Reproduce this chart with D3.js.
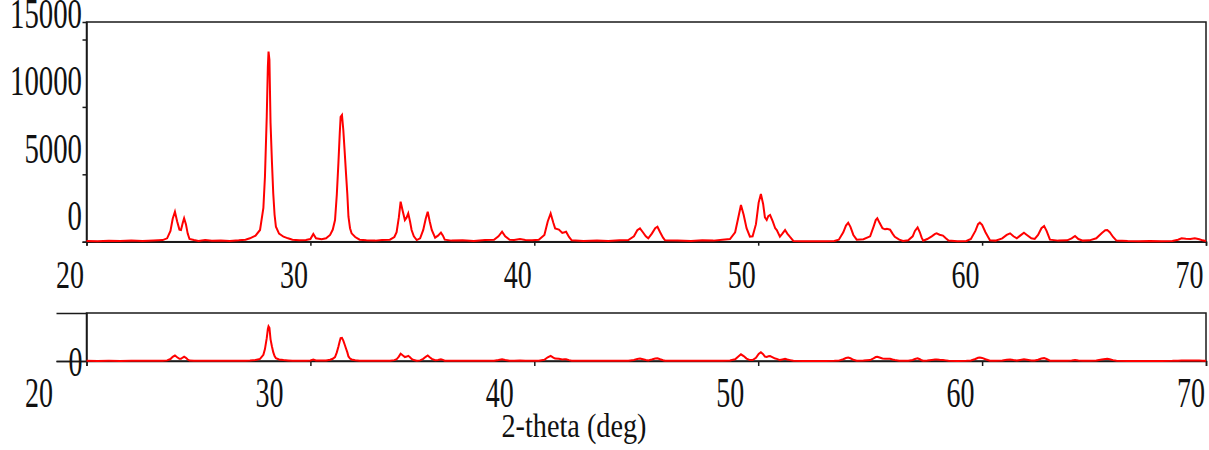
<!DOCTYPE html>
<html>
<head>
<meta charset="utf-8">
<script src="https://cdn.jsdelivr.net/npm/d3@7/dist/d3.min.js"></script>
<style>
  html, body { margin: 0; padding: 0; background: #fff; }
  svg { display: block; }
  text { font-family: "Liberation Serif", "Times New Roman", serif; fill: #111; }
</style>
</head>
<body>
<svg id="chart" width="1209" height="450"></svg>
<script>
// ---- data ----
const twoTheta = [
  20.0,20.5,21.0,21.5,22.0,22.5,23.0,23.4,23.6,23.75,23.85,23.95,24.05,24.15,24.22,24.3,24.36,24.44,24.52,24.6,
  24.8,25.0,25.3,25.6,26.0,26.4,26.8,27.1,27.3,27.55,27.75,27.9,27.97,28.05,28.1,28.13,28.17,28.22,28.28,28.34,
  28.4,28.46,28.6,28.8,29.0,29.2,29.5,29.8,30.0,30.13,30.25,30.5,30.7,30.88,31.0,31.1,31.18,31.25,31.31,31.35,
  31.41,31.47,31.53,31.59,31.65,31.7,31.77,31.84,32.0,32.2,32.5,32.9,33.2,33.55,33.75,33.85,33.95,34.03,34.12,34.22,
  34.3,34.37,34.45,34.52,34.62,34.75,34.9,35.04,35.15,35.24,35.33,35.42,35.57,35.7,35.83,35.92,36.0,36.3,36.8,37.3,
  37.8,38.2,38.4,38.56,38.7,38.9,39.1,39.36,39.6,39.9,40.2,40.45,40.6,40.73,40.85,40.93,41.1,41.25,41.35,41.42,
  41.55,41.67,42.2,42.8,43.3,43.8,44.2,44.45,44.6,44.72,44.85,44.98,45.09,45.25,45.4,45.5,45.62,45.75,45.84,46.4,
  47.0,47.5,48.0,48.4,48.74,48.97,49.1,49.23,49.35,49.48,49.63,49.75,49.9,50.02,50.12,50.22,50.3,50.38,50.45,50.53,
  50.65,50.76,50.83,50.97,51.08,51.2,51.3,51.42,51.57,52.0,52.5,53.0,53.4,53.6,53.8,53.92,54.02,54.12,54.25,54.4,
  54.7,55.0,55.15,55.25,55.32,55.42,55.55,55.66,55.75,55.89,56.0,56.1,56.3,56.47,56.7,56.9,57.0,57.12,57.22,57.3,
  57.37,57.55,57.75,57.9,57.97,58.1,58.25,58.38,58.5,58.9,59.3,59.5,59.7,59.82,59.9,60.0,60.15,60.35,60.6,60.9,
  61.1,61.25,61.4,61.55,61.7,61.87,62.0,62.2,62.35,62.5,62.65,62.77,62.88,63.03,63.4,63.8,64.0,64.15,64.3,64.5,
  64.8,65.1,65.35,65.5,65.59,65.7,65.85,66.0,66.5,67.0,67.5,68.0,68.5,68.75,68.91,69.1,69.3,69.5,69.7,69.85,
  70.0
];
const intensity = [
  60,40,70,50,80,60,90,120,250,800,1700,2225,1500,900,870,1400,1735,1300,600,200,
  120,60,130,70,90,60,100,150,250,450,870,2500,4820,9270,13000,14100,13500,8800,6000,3600,
  2000,1110,600,370,250,150,100,120,200,570,250,180,250,500,900,1610,3500,5810,8000,9270,
  9400,8290,6700,5070,3500,1855,1000,620,350,150,100,80,120,150,350,700,1800,2970,2300,1610,
  1800,2100,1500,870,400,120,250,870,1700,2225,1500,870,300,450,670,450,150,80,100,60,
  120,150,400,740,400,150,120,200,120,100,150,500,1500,2100,1400,990,900,650,700,740,
  350,100,60,90,60,100,120,400,850,990,700,400,250,600,1000,1110,700,300,100,80,
  60,100,80,150,200,700,1700,2720,2000,1000,370,400,1300,2900,3540,2800,1800,1610,1900,1980,
  1500,1000,865,370,600,865,600,350,60,40,40,40,60,150,700,1200,1410,1100,500,150,
  180,400,1100,1600,1730,1400,1000,920,950,890,600,370,150,60,100,400,800,1065,700,300,
  80,200,400,580,620,520,450,250,80,40,60,200,800,1300,1410,1250,700,100,80,250,
  500,620,400,250,450,670,500,250,200,500,1000,1160,800,150,80,100,250,420,200,80,
  100,250,650,850,865,700,350,80,50,40,50,40,60,150,250,220,200,250,180,100,
  60
];
const xTicks = [20, 30, 40, 50, 60, 70];
const yTicksTop = [0, 5000, 10000, 15000];
const yTicksBottom = [0];
const xTitle = "2-theta (deg)";

// ---- layout ----
const svg = d3.select("#chart");
const left = 86.5, right = 1206;
const top1 = 22, base1 = 241.7;
const top2 = 313, base2 = 361;
const ink = "#1a1a1a";
const data = twoTheta.map((t, i) => ({ t, v: intensity[i] }));

const x = d3.scaleLinear().domain([20, 70]).range([left, right]);
const yTop = d3.scaleLinear().domain([0, 16300]).range([base1, top1]);
const yBot = d3.scaleLinear().domain([0, 19500]).range([base2, top2]);
// bottom-panel tick labels are laid out on a slightly different spacing in the reference
const xLabBot = d3.scaleLinear().domain([20, 70]).range([39, 1191]);

function styleAxis(g) {
  g.select(".domain").attr("stroke", ink).attr("stroke-width", 1.5);
  g.selectAll(".tick line").attr("stroke", ink).attr("stroke-width", 1.5);
  g.attr("font-family", null).attr("font-size", null);
}

// ---- top panel ----
svg.append("rect").attr("x", left).attr("y", top1)
  .attr("width", right - left).attr("height", base1 - top1)
  .attr("fill", "none").attr("stroke", ink).attr("stroke-width", 1.5);

const gxTop = svg.append("g").attr("transform", `translate(0,${base1})`)
  .call(d3.axisBottom(x).tickValues(xTicks).tickSize(4).tickFormat(d3.format("d")));
styleAxis(gxTop);
gxTop.selectAll(".tick text")
  .attr("y", 46).attr("dy", null).attr("x", -17)
  .attr("text-anchor", "middle").attr("font-size", 40)
  .attr("textLength", 28).attr("lengthAdjust", "spacingAndGlyphs");

const gyTop = svg.append("g").attr("transform", `translate(${left},0)`)
  .call(d3.axisLeft(yTop).tickValues(yTicksTop).tickSize(4).tickFormat(d3.format("d")));
styleAxis(gyTop);
gyTop.selectAll(".tick text")
  .attr("x", -4.5).attr("y", -12).attr("dy", null)
  .attr("text-anchor", "end").attr("font-size", 42)
  .attr("textLength", d => 14.4 * String(d).length).attr("lengthAdjust", "spacingAndGlyphs");

const line1 = d3.line().x(d => x(d.t)).y(d => yTop(d.v));
svg.append("path").datum(data).attr("d", line1)
  .attr("fill", "none").attr("stroke", "#ff0000").attr("stroke-width", 2)
  .attr("stroke-linejoin", "miter");

// ---- bottom panel ----
svg.append("rect").attr("x", left).attr("y", top2)
  .attr("width", right - left).attr("height", base2 - top2)
  .attr("fill", "none").attr("stroke", ink).attr("stroke-width", 1.5);

const gxBot = svg.append("g").attr("transform", `translate(0,${base2})`)
  .call(d3.axisBottom(x).tickValues(xTicks).tickSize(5).tickFormat(""));
styleAxis(gxBot);

svg.append("g").selectAll("text").data(xTicks).join("text")
  .attr("x", d => xLabBot(d)).attr("y", base2 + 46)
  .attr("text-anchor", "middle").attr("font-size", 42)
  .attr("textLength", 28).attr("lengthAdjust", "spacingAndGlyphs")
  .text(d => d);

const gyBot = svg.append("g").attr("transform", `translate(${left},0)`)
  .call(d3.axisLeft(yBot).tickValues(yTicksBottom).tickSize(30).tickFormat(d3.format("d")));
styleAxis(gyBot);
gyBot.selectAll(".tick text")
  .attr("x", -4).attr("y", 14).attr("dy", null)
  .attr("text-anchor", "end").attr("font-size", 42)
  .attr("textLength", 14).attr("lengthAdjust", "spacingAndGlyphs");

const line2 = d3.line().x(d => x(d.t)).y(d => yBot(d.v));
svg.append("path").datum(data).attr("d", line2)
  .attr("fill", "none").attr("stroke", "#ff0000").attr("stroke-width", 2);

// ---- axis title ----
svg.append("text").attr("x", 574).attr("y", 436.5)
  .attr("text-anchor", "middle").attr("font-size", 34)
  .attr("textLength", 145).attr("lengthAdjust", "spacingAndGlyphs")
  .text(xTitle);
</script>
</body>
</html>
